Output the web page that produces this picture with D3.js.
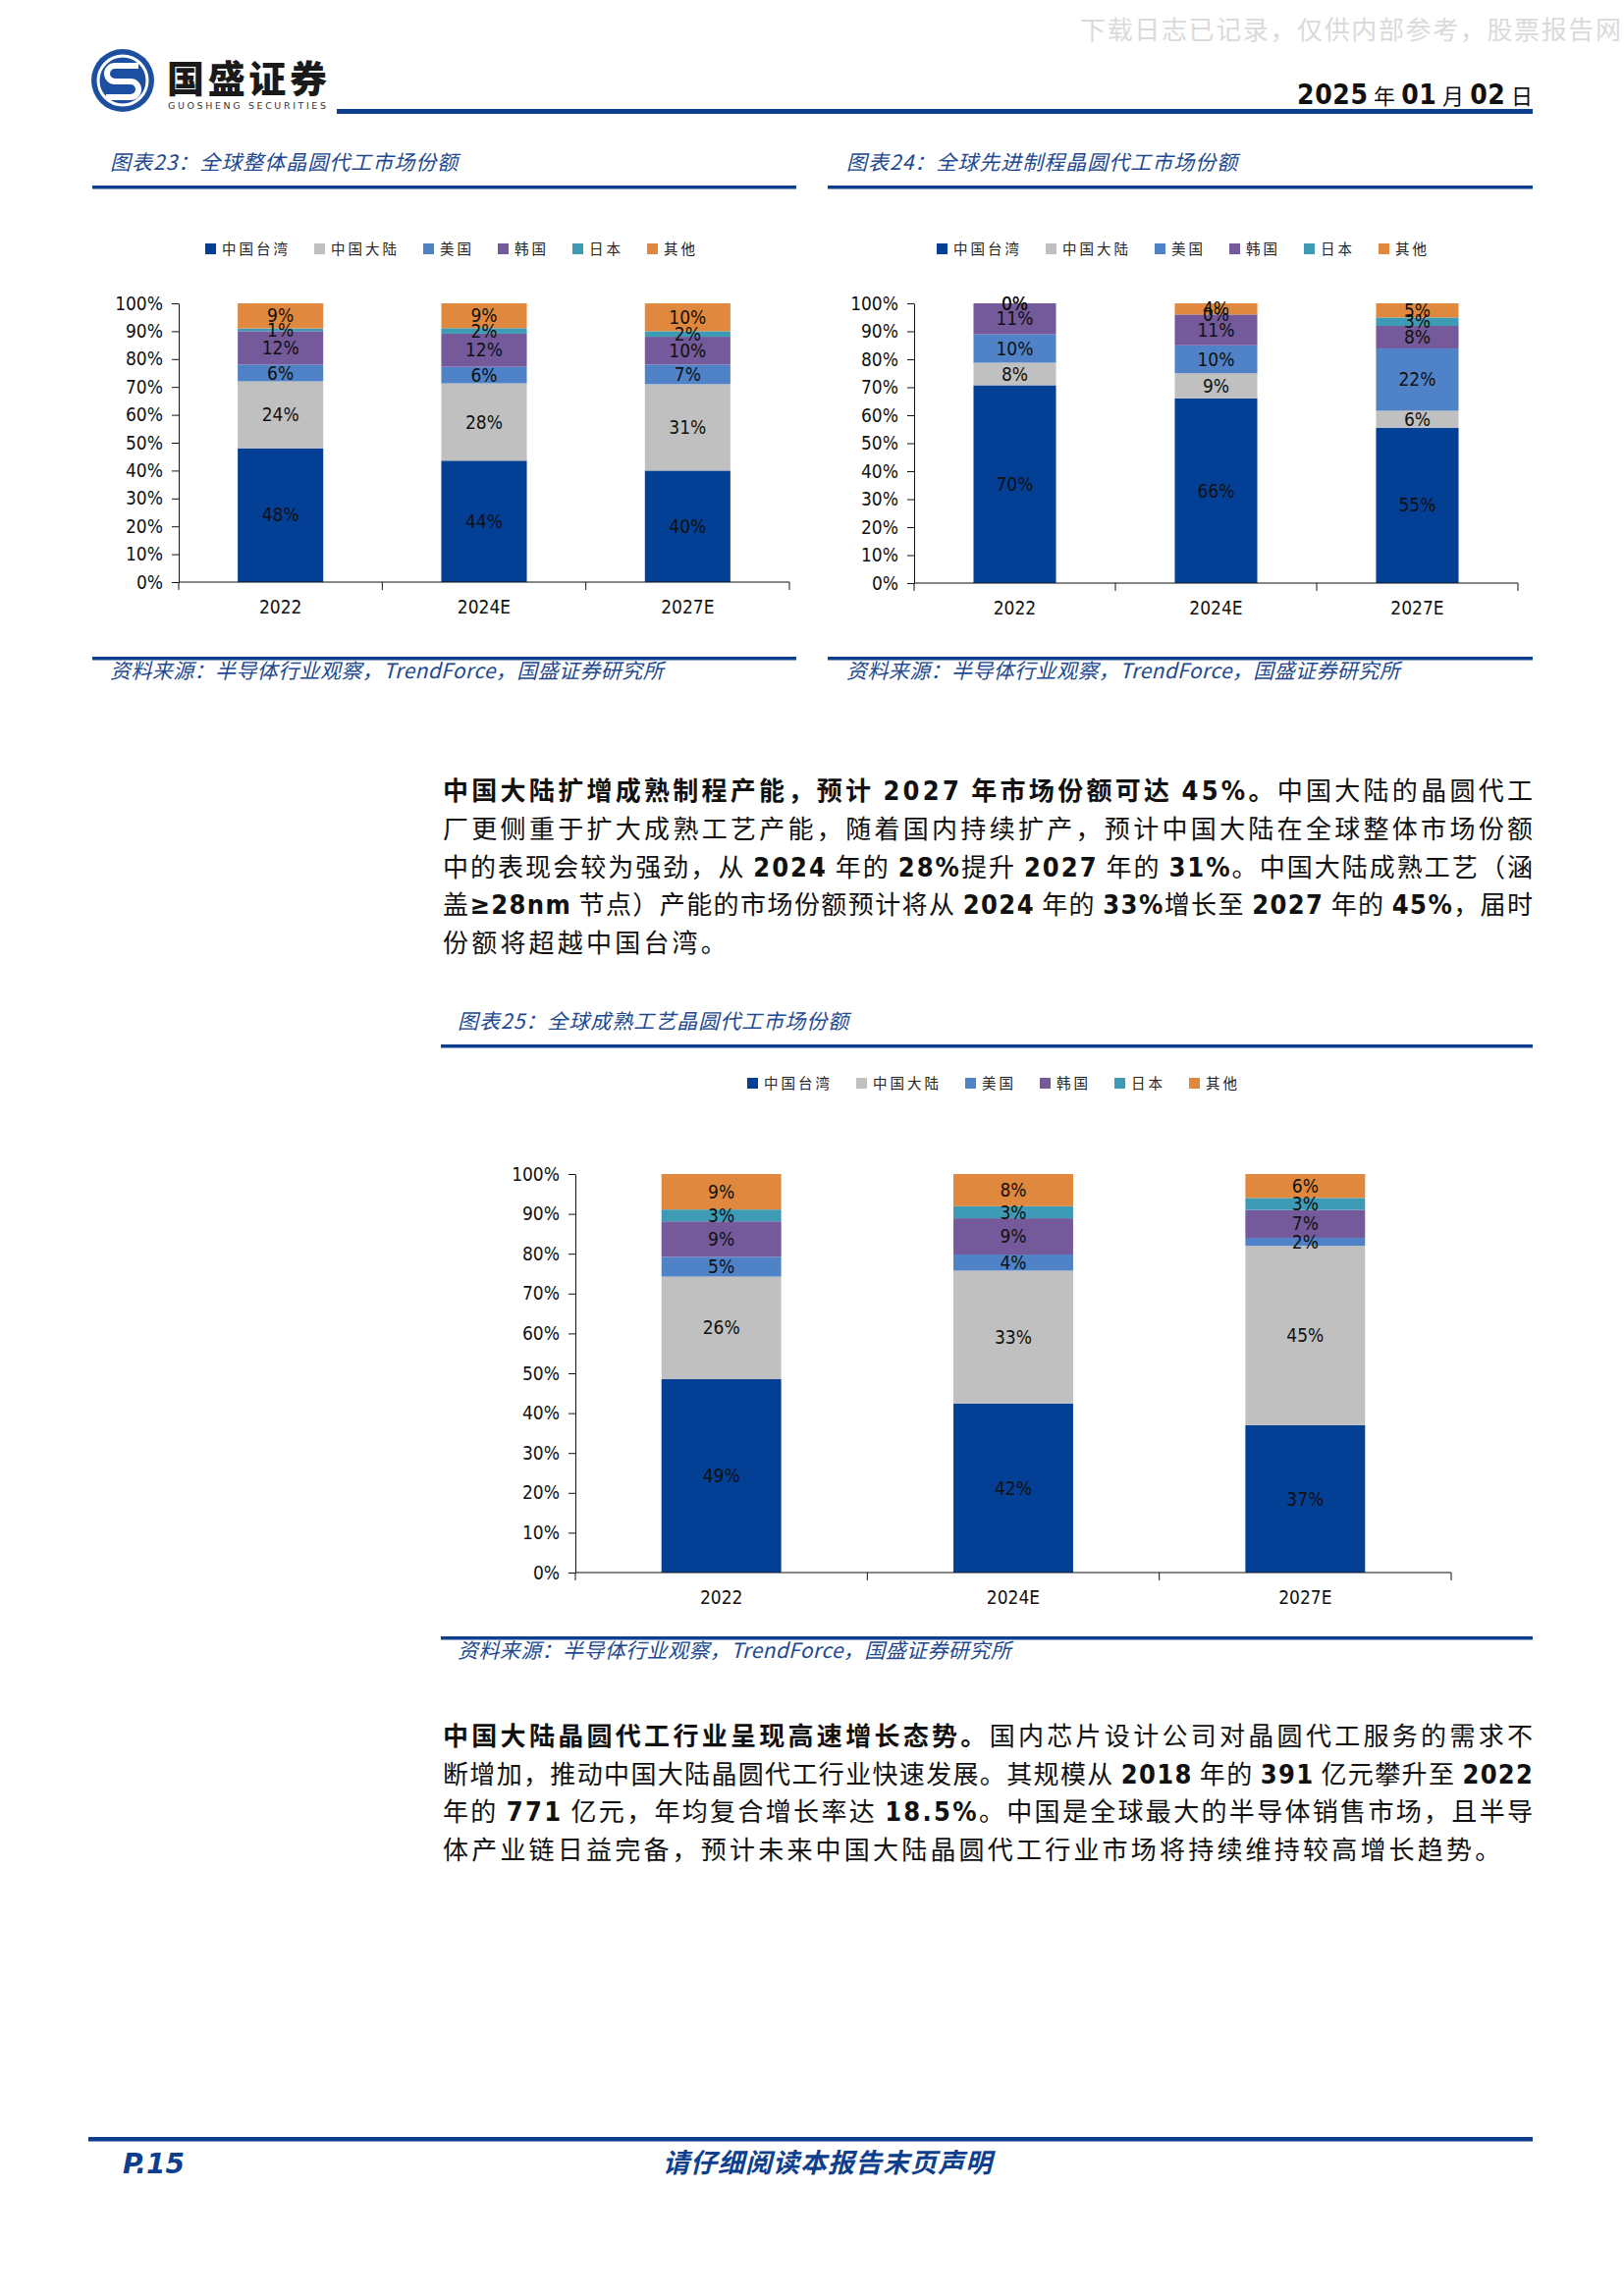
<!DOCTYPE html>
<html>
<head>
<meta charset="utf-8">
<script src="https://cdn.jsdelivr.net/npm/d3@7"></script>
<style>
  body { margin: 0; background: #fff; }
  svg { display: block; }
</style>
</head>
<body>
<svg width="1654" height="2339"></svg>
<script>
// ---- data ----
const regions = ['中国台湾', '中国大陆', '美国', '韩国', '日本', '其他'];
const years = ['2022', '2024E', '2027E'];
const colors = ['#033f95', '#c0c0c0', '#4f82c7', '#74599b', '#3e9bb6', '#e0883d'];
const yTicks = [0, 0.1, 0.2, 0.3, 0.4, 0.5, 0.6, 0.7, 0.8, 0.9, 1];

// one row per year, one column per region (percent)
const overallShare  = [[48, 24, 6, 12, 1, 9], [44, 28, 6, 12, 2, 9], [40, 31, 7, 10, 2, 10]];
const advancedShare = [[70, 8, 10, 11, 0, 0], [66, 9, 10, 11, 0, 4], [55, 6, 22, 8, 3, 5]];
const matureShare   = [[49, 26, 5, 9, 3, 9], [42, 33, 4, 9, 3, 8], [37, 45, 2, 7, 3, 6]];

const blue = '#0e3f8e';
const titleBlue = '#22498f';
const cjk = '"Noto Sans CJK SC", "Noto Sans", sans-serif';
const num = '"DejaVu Sans Condensed", "DejaVu Sans", sans-serif';

const svg = d3.select('svg');
svg.append('rect').attr('width', 1654).attr('height', 2339).attr('fill', '#fff');

// ---- page header ----
svg.append('text')
    .attr('x', 1100).attr('y', 40)
    .attr('textLength', 551).attr('lengthAdjust', 'spacing')
    .attr('font-family', cjk).attr('font-size', 26).attr('fill', '#dadada')
    .text('下载日志已记录，仅供内部参考，股票报告网');

const logo = svg.append('g');
logo.append('circle').attr('cx', 125).attr('cy', 82).attr('r', 32).attr('fill', '#1c4fa0');
logo.append('circle').attr('cx', 125).attr('cy', 82).attr('r', 25).attr('fill', 'none')
    .attr('stroke', '#fff').attr('stroke-width', 3);
logo.append('path')
    .attr('d', 'M141,67 H117 A8,8 0 0 0 117,83 H133 A8,8 0 0 1 133,99 H108')
    .attr('fill', 'none').attr('stroke', '#fff').attr('stroke-width', 6);
logo.append('text')
    .attr('x', 170).attr('y', 94)
    .attr('textLength', 163).attr('lengthAdjust', 'spacing')
    .attr('font-family', cjk).attr('font-weight', 900).attr('font-size', 38).attr('fill', '#1a1a1a')
    .text('国盛证券');
logo.append('text')
    .attr('x', 171).attr('y', 111)
    .attr('textLength', 161).attr('lengthAdjust', 'spacing')
    .attr('font-family', '"DejaVu Sans", sans-serif').attr('font-size', 9.5).attr('fill', '#333')
    .text('GUOSHENG SECURITIES');

const dateText = svg.append('text')
    .attr('x', 1561).attr('y', 106).attr('text-anchor', 'end')
    .attr('font-size', 27).attr('fill', '#111')
    .attr('textLength', 240).attr('lengthAdjust', 'spacing');
[['2025', true], [' 年 ', false], ['01', true], [' 月 ', false], ['02', true], [' 日', false]]
    .forEach(([s, isNum]) => {
        dateText.append('tspan').text(s)
            .attr('font-family', isNum ? num : cjk)
            .attr('font-weight', isNum ? 'bold' : 'normal')
            .attr('font-size', isNum ? 28 : 22);
    });

svg.append('rect').attr('x', 343).attr('y', 111).attr('width', 1218).attr('height', 5).attr('fill', blue);

// ---- chart builder ----
const drawChart = opt => {
    const g = svg.append('g');

    // title and rules
    g.append('text')
        .attr('x', opt.titleX).attr('y', opt.titleY)
        .attr('font-family', cjk).attr('font-style', 'italic').attr('font-size', 21)
        .attr('letter-spacing', 1)
        .attr('fill', titleBlue)
        .text(opt.title);
    g.append('rect')
        .attr('x', opt.ruleX0).attr('y', opt.titleY + 16)
        .attr('width', opt.ruleX1 - opt.ruleX0).attr('height', 3.5).attr('fill', blue);
    g.append('rect')
        .attr('x', opt.ruleX0).attr('y', opt.sourceY - 22)
        .attr('width', opt.ruleX1 - opt.ruleX0).attr('height', 3.5).attr('fill', blue);
    g.append('text')
        .attr('x', opt.titleX).attr('y', opt.sourceY)
        .attr('font-family', cjk).attr('font-style', 'italic').attr('font-size', 21)
        .attr('letter-spacing', 0.4)
        .attr('fill', titleBlue)
        .text('资料来源：半导体行业观察，TrendForce，国盛证券研究所');

    // legend
    const legend = g.append('g').attr('transform', `translate(${opt.legendX},${opt.legendY})`);
    let lx = 0;
    regions.forEach((r, i) => {
        legend.append('rect')
            .attr('x', lx).attr('y', -6).attr('width', 11).attr('height', 11)
            .attr('fill', colors[i]);
        const t = legend.append('text')
            .attr('x', lx + 17).attr('y', 5)
            .attr('font-family', cjk).attr('font-size', 14.5)
            .attr('letter-spacing', 3).attr('fill', '#222')
            .text(r);
        lx += 17 + t.node().getComputedTextLength() + 24;
    });

    // stacked 100% bars
    const rows = opt.values.map((v, i) => {
        const row = { year: years[i] };
        regions.forEach((r, j) => row[r] = v[j]);
        return row;
    });
    const series = d3.stack().keys(regions).offset(d3.stackOffsetExpand)(rows);

    const x = d3.scaleBand().domain(years).range([opt.x0, opt.x1]);
    const y = d3.scaleLinear().domain([0, 1]).range([opt.y0, opt.y1]);
    const barW = x.bandwidth() * opt.barFrac;
    const barX = d => x(d.data.year) + (x.bandwidth() - barW) / 2;

    g.selectAll('g.layer')
        .data(series)
        .join('g')
        .attr('class', 'layer')
        .attr('fill', (d, i) => colors[i])
        .selectAll('rect')
        .data(d => d)
        .join('rect')
        .attr('x', barX)
        .attr('y', d => y(d[1]))
        .attr('width', barW)
        .attr('height', d => y(d[0]) - y(d[1]));

    series.forEach(s => {
        g.append('g')
            .selectAll('text')
            .data(s)
            .join('text')
            .attr('x', d => x(d.data.year) + x.bandwidth() / 2)
            .attr('y', d => y((d[0] + d[1]) / 2))
            .attr('dy', '0.35em')
            .attr('text-anchor', 'middle')
            .attr('font-family', num).attr('font-size', 19).attr('fill', '#111')
            .text(d => d.data[s.key] + '%');
    });

    // y axis
    const yAxis = g.append('g')
        .attr('transform', `translate(${opt.x0},0)`)
        .call(d3.axisLeft(y)
            .tickValues(yTicks)
            .tickFormat(d3.format('.0%'))
            .tickSize(7)
            .tickSizeOuter(0)
            .tickPadding(9));
    yAxis.selectAll('text')
        .attr('font-family', num).attr('font-size', 19).attr('fill', '#111');
    yAxis.selectAll('line, path').attr('stroke', '#111');

    // x axis: baseline, boundary ticks and labels
    const xAxis = g.append('g');
    xAxis.append('line')
        .attr('x1', opt.x0).attr('x2', opt.x1)
        .attr('y1', opt.y0).attr('y2', opt.y0)
        .attr('stroke', '#111');
    const edges = years.map(d => x(d)).concat([x.range()[1]]);
    xAxis.selectAll('line.edge')
        .data(edges)
        .join('line')
        .attr('class', 'edge')
        .attr('x1', d => d).attr('x2', d => d)
        .attr('y1', opt.y0).attr('y2', opt.y0 + 8)
        .attr('stroke', '#111');
    xAxis.selectAll('text')
        .data(years)
        .join('text')
        .attr('x', d => x(d) + x.bandwidth() / 2)
        .attr('y', opt.y0 + 25)
        .attr('dy', '0.35em')
        .attr('text-anchor', 'middle')
        .attr('font-family', num).attr('font-size', 19).attr('fill', '#111')
        .text(d => d);
};

drawChart({
    title: '图表23：全球整体晶圆代工市场份额',
    values: overallShare,
    titleX: 112, titleY: 173, ruleX0: 94, ruleX1: 811,
    sourceY: 691,
    legendX: 209, legendY: 254,
    x0: 182, x1: 804, y0: 593, y1: 309, barFrac: 0.42
});

drawChart({
    title: '图表24：全球先进制程晶圆代工市场份额',
    values: advancedShare,
    titleX: 862, titleY: 173, ruleX0: 843, ruleX1: 1561,
    sourceY: 691,
    legendX: 954, legendY: 254,
    x0: 931, x1: 1546, y0: 594, y1: 309, barFrac: 0.41
});

drawChart({
    title: '图表25：全球成熟工艺晶圆代工市场份额',
    values: matureShare,
    titleX: 466, titleY: 1048, ruleX0: 449, ruleX1: 1561,
    sourceY: 1689,
    legendX: 761, legendY: 1104,
    x0: 586, x1: 1478, y0: 1602, y1: 1196, barFrac: 0.41
});

// ---- body text ----
const latinRe = /[0-9A-Za-z.%≥]+|[^0-9A-Za-z.%≥]+/g;
const writeLine = (x, y, parts, width) => {
    const t = svg.append('text')
        .attr('x', x).attr('y', y)
        .attr('font-size', 26).attr('fill', '#111');
    parts.forEach(p => {
        p.text.match(latinRe).forEach(r => {
            const latin = /^[0-9A-Za-z.%≥]/.test(r);
            t.append('tspan')
                .text(r)
                .attr('font-family', latin ? num : cjk)
                .attr('font-size', latin ? 27 : 26)
                .attr('font-weight', p.bold || latin ? 'bold' : 'normal');
        });
    });
    if (width) t.attr('textLength', width).attr('lengthAdjust', 'spacing');
    else t.attr('letter-spacing', 3.2);
};

const para1 = [
    [{ text: '中国大陆扩增成熟制程产能，预计 2027 年市场份额可达 45%。', bold: true }, { text: '中国大陆的晶圆代工' }],
    [{ text: '厂更侧重于扩大成熟工艺产能，随着国内持续扩产，预计中国大陆在全球整体市场份额' }],
    [{ text: '中的表现会较为强劲，从 2024 年的 28%提升 2027 年的 31%。中国大陆成熟工艺（涵' }],
    [{ text: '盖≥28nm 节点）产能的市场份额预计将从 2024 年的 33%增长至 2027 年的 45%，届时' }],
    [{ text: '份额将超越中国台湾。' }]
];
para1.forEach((parts, i) =>
    writeLine(451, 815 + i * 38.8, parts, i < para1.length - 1 ? 1110 : null));

const para2 = [
    [{ text: '中国大陆晶圆代工行业呈现高速增长态势。', bold: true }, { text: '国内芯片设计公司对晶圆代工服务的需求不' }],
    [{ text: '断增加，推动中国大陆晶圆代工行业快速发展。其规模从 2018 年的 391 亿元攀升至 2022' }],
    [{ text: '年的 771 亿元，年均复合增长率达 18.5%。中国是全球最大的半导体销售市场，且半导' }],
    [{ text: '体产业链日益完备，预计未来中国大陆晶圆代工行业市场将持续维持较高增长趋势。' }]
];
para2.forEach((parts, i) =>
    writeLine(451, 1778 + i * 38.7, parts, i < para2.length - 1 ? 1110 : null));

// ---- footer ----
svg.append('rect').attr('x', 90).attr('y', 2177).attr('width', 1471).attr('height', 4.5).attr('fill', blue);
svg.append('text')
    .attr('x', 125).attr('y', 2214)
    .attr('font-family', '"DejaVu Sans", sans-serif').attr('font-weight', 'bold')
    .attr('font-style', 'italic').attr('font-size', 28).attr('fill', blue)
    .text('P.15');
svg.append('text')
    .attr('x', 843).attr('y', 2213).attr('text-anchor', 'middle')
    .attr('font-family', cjk).attr('font-weight', 'bold')
    .attr('font-style', 'italic').attr('font-size', 27).attr('letter-spacing', 1)
    .attr('fill', blue)
    .text('请仔细阅读本报告末页声明');
</script>
</body>
</html>
